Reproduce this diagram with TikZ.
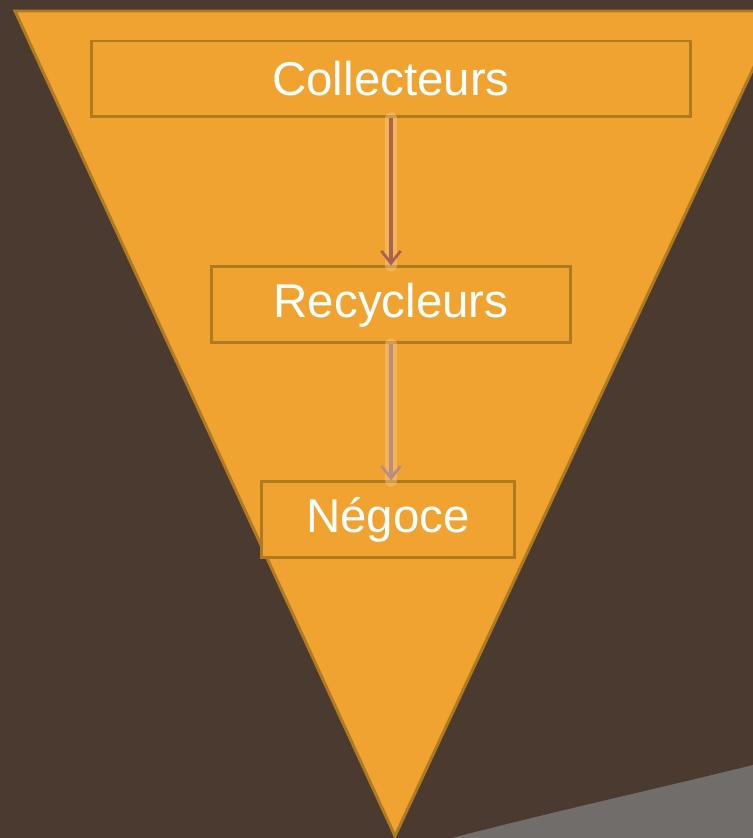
\documentclass[tikz,border=0pt]{standalone}
\usepackage{fontspec}
\setmainfont{Liberation Sans}
\usepackage{tikz}
\usetikzlibrary{positioning,arrows.meta}
\definecolor{colorback}     {RGB}{74 ,58 ,48 }
\definecolor{colorfunnel}   {RGB}{240,163,48 }
\definecolor{colorrim}      {RGB}{176,122,32 }
\definecolor{colorflowa}    {RGB}{168,98 ,80 }
\definecolor{colorflowb}    {RGB}{186,140,130}
\definecolor{colorglow}     {RGB}{246,200,140}
\definecolor{colorcurl}     {RGB}{112,109,106}

\begin{document}
\begin{tikzpicture}[
    x=0.02cm, y=-0.02cm,
    font={\fontsize{27}{32}\selectfont},
    base/.style={text=white,inner sep=0pt,align=center,rectangle},
    stagebox/.style={base,draw=colorrim,line width=1.7pt,fill=colorfunnel,minimum height=1.52cm},
    flow/.style={line width=2.2pt,-{Straight Barb[length=7pt,width=11pt,line width=1.6pt]},
        preaction={draw=colorglow,opacity=0.45,line width=7pt,line cap=round,-}},
]
    \useasboundingbox (0,0) rectangle (753,838);

    % Background and page curl
    \fill[colorback] (0,0) rectangle (753,838);
    \fill[colorcurl] (452,838) .. controls (560,810) and (660,788) .. (753,765) -- (753,838) -- cycle;

    % Funnel
    \filldraw[fill=colorfunnel,draw=colorrim,line width=1.7pt,line join=miter]
        (15,11) -- (780,11) -- (395,836) -- cycle;

    % Stages
    \node[stagebox,minimum width=12.0cm] (collect) at (391,79) {Collecteurs};
    \node[stagebox,minimum width=7.2cm,below=2.94cm of collect] (recycle) {Recycleurs};
    \node[stagebox,minimum width=5.08cm,below=2.72cm of recycle,xshift=-0.06cm] (trade) {Négoce};

    % Arrows
    \draw[flow,colorflowa] (collect) -- (recycle);
    \draw[flow,colorflowb] (recycle.south) -- (recycle.south |- trade.north);

\end{tikzpicture}
\end{document}
